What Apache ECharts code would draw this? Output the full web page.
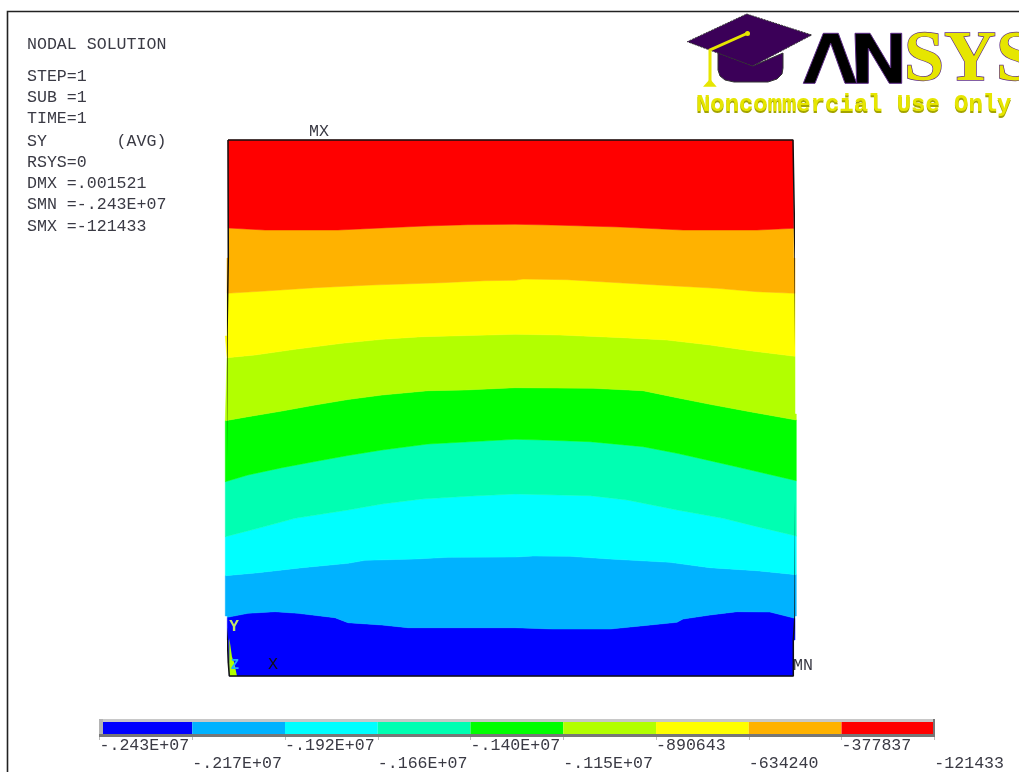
<!DOCTYPE html>
<html>
<head>
<meta charset="utf-8">
<style>html,body{margin:0;padding:0;background:#fff}#c{width:1019px;height:772px}</style>
<script src="https://cdn.jsdelivr.net/npm/echarts@6/dist/echarts.min.js"></script>
</head>
<body>
<div id="c"></div>
<script>
// Contour levels and their labels
const levels = [-2429060, -2172657, -1916254, -1659851, -1403448, -1147046, -890643, -634240, -377837, -121433];
const levelLabels = ['-.243E+07', '-.217E+07', '-.192E+07', '-.166E+07', '-.140E+07', '-.115E+07', '-890643', '-634240', '-377837', '-121433'];
const bandColors = ['#0000ff', '#00b2ff', '#00ffff', '#00ffb2', '#00ff00', '#b2ff00', '#ffff00', '#ffb200', '#ff0000'];

// Deformed plate outline in model units
const leftEdge = [[0, 536], [0.3, 418], [-1, 418], [-1, 340], [-2.7, 340], [-2.7, 60], [-0.7, 60], [-0.7, 36], [0.3, 36], [0.3, 13], [1.3, 13], [1.3, 0]];
const rightEdge = [[565, 536], [565.7, 418], [567, 418], [567, 262], [568.3, 262], [568.3, 60], [567, 60], [567, 36], [565.3, 36], [565.3, 0]];

// Contour boundaries between neighbouring bands, bottom to top
const boundaryBlueLight = [[-0.7, 58.7], [20, 62.7], [47, 64.3], [70, 62.7], [107, 58.3], [120, 53.3], [154, 51], [180, 48.3], [287, 48.3], [325, 47], [382, 47], [415, 50.3], [449, 53.7], [455, 57], [482, 61], [509, 64.3], [542, 64], [567, 57.7]];
const boundaryLightCyan = [[-2.7, 100.3], [30, 103.3], [74, 108.3], [120, 112.7], [137, 115.7], [187, 117], [220, 118.7], [287, 119], [305, 120], [342, 119.7], [382, 117], [442, 113.7], [482, 108.3], [529, 105.3], [568.3, 101.3]];
const boundaryCyanTeal = [[-2.7, 139.3], [30, 147.7], [67, 157.7], [120, 166], [154, 172], [194, 177], [244, 180], [287, 182], [362, 180.3], [399, 176], [449, 166], [495, 157.7], [529, 149.3], [568.3, 140]];
const boundaryTealGreen = [[-2.7, 194.3], [20, 201], [54, 208.3], [87, 214.5], [120, 220.5], [154, 226], [200, 232], [237, 234], [287, 236.7], [315, 236], [362, 234.3], [415, 229.3], [449, 222.7], [482, 215.3], [515, 207.7], [568.3, 195.3]];
const boundaryGreenLime = [[-2.7, 255.3], [20, 259.3], [54, 265], [87, 271], [120, 276.5], [154, 281], [200, 285.3], [237, 286], [287, 288.3], [365, 287.7], [415, 285.3], [449, 278.3], [482, 271.7], [522, 264.3], [568.3, 256]];
const boundaryLimeYellow = [[-1, 318.3], [27, 321], [67, 326.7], [114, 332.7], [154, 336.7], [194, 339.3], [287, 341.7], [332, 341], [395, 338.3], [439, 336], [482, 331], [522, 325.3], [567, 319.7]];
const boundaryYellowOrange = [[-1, 382.7], [37, 385], [87, 388.3], [144, 391], [214, 393.3], [257, 395.3], [287, 395.7], [295, 397], [339, 396.3], [395, 393], [442, 390.3], [489, 387.7], [529, 384.3], [567, 382.7]];
const boundaryOrangeRed = [[0.3, 448], [37, 446], [110, 446], [159, 448.3], [197, 450], [240, 451.3], [287, 451.7], [324, 451], [392, 449], [455, 446], [529, 446], [565.7, 447.7]];
const triadSliver = [[1.3, 38], [4, 19], [6, 14], [9, 0], [1.3, 0]];

const boundaries = [
  [leftEdge[leftEdge.length - 1], rightEdge[rightEdge.length - 1]],
  boundaryBlueLight, boundaryLightCyan, boundaryCyanTeal, boundaryTealGreen,
  boundaryGreenLime, boundaryLimeYellow, boundaryYellowOrange, boundaryOrangeRed,
  [leftEdge[0], rightEdge[0]]
];

// Status text
const statusTitle = 'NODAL SOLUTION';
const statusLines = ['STEP=1', 'SUB =1', 'TIME=1', 'SY       (AVG)', 'RSYS=0', 'DMX =.001521', 'SMN =-.243E+07', 'SMX =-121433'];
const markerTexts = [['MX', 319, 132], ['X', 273, 665], ['MN', 803, 666]];

const MONO = '"Liberation Mono", monospace';

function bandPolygon(i) {
  const lower = boundaries[i], upper = boundaries[i + 1];
  const yLowL = lower[0][1], yUpL = upper[0][1];
  const yLowR = lower[lower.length - 1][1], yUpR = upper[upper.length - 1][1];
  const pts = [];
  lower.forEach(p => pts.push(p));
  rightEdge.slice().reverse().forEach(p => { if (p[1] > yLowR && p[1] < yUpR) pts.push(p); });
  upper.slice().reverse().forEach(p => pts.push(p));
  leftEdge.forEach(p => { if (p[1] < yUpL && p[1] > yLowL) pts.push(p); });
  return pts;
}

const series = [];
bandColors.forEach((color, i) => {
  const poly = bandPolygon(i);
  series.push({
    type: 'custom', xAxisIndex: 0, yAxisIndex: 0, silent: true, clip: false,
    data: [0], animation: false,
    renderItem: (params, api) => ({
      type: 'polygon',
      shape: { points: poly.map(p => api.coord(p)) },
      style: { fill: color, stroke: color, lineWidth: 0.5 }
    })
  });
  series.push({
    type: 'custom', xAxisIndex: 1, yAxisIndex: 1, silent: true, clip: false,
    data: [0], animation: false,
    renderItem: (params, api) => {
      const a = api.coord([levels[i], 1]), b = api.coord([levels[i + 1], 0]);
      return { type: 'rect', shape: { x: a[0], y: a[1], width: b[0] - a[0], height: b[1] - a[1] }, style: { fill: color } };
    }
  });
});
series.push({
  type: 'custom', xAxisIndex: 0, yAxisIndex: 0, silent: true, clip: false, z: 4,
  data: [0], animation: false,
  renderItem: (params, api) => ({
    type: 'polygon', shape: { points: triadSliver.map(p => api.coord(p)) },
    style: { fill: '#b2ff00' }
  })
});
series.push({
  type: 'line', xAxisIndex: 0, yAxisIndex: 0, silent: true, clip: false, z: 5,
  showSymbol: false, animation: false,
  lineStyle: { color: '#111', width: 1.5 },
  data: leftEdge.concat(rightEdge.slice().reverse()).concat([leftEdge[0]])
});

function txt(text, x, y, color, opts) {
  return Object.assign({
    type: 'text', x, y, z: 30,
    style: { text, fill: color || '#3a3a44', font: '16.6px ' + MONO, textVerticalAlign: 'middle', textAlign: 'left' }
  }, opts || {});
}
const statusY = [77, 98, 119, 142, 163, 184, 205, 227];
const elements = [];
// outer frame
elements.push({ type: 'polyline', z: 20, shape: { points: [[7.5, 772], [7.5, 11.5], [1019, 11.5]] }, style: { stroke: '#222', lineWidth: 1.6, fill: null } });
// colour bar frame
elements.push({ type: 'rect', z: 20, shape: { x: 99, y: 719, width: 836, height: 3 }, style: { fill: '#c8c8c8' } });
elements.push({ type: 'rect', z: 20, shape: { x: 99, y: 719, width: 4, height: 18 }, style: { fill: '#b4b4b4' } });
elements.push({ type: 'rect', z: 20, shape: { x: 99, y: 734, width: 836, height: 3 }, style: { fill: '#777' } });
elements.push({ type: 'rect', z: 20, shape: { x: 933, y: 719, width: 2, height: 18 }, style: { fill: '#777' } });
// status text
elements.push(txt(statusTitle, 27, 45));
statusLines.forEach((s, i) => elements.push(txt(s, 27, statusY[i])));
markerTexts.forEach(m => elements.push(txt(m[0], m[1], m[2], m[0] === 'X' ? '#111' : '#3a3a44', { style: { text: m[0], fill: m[0] === 'X' ? '#111' : '#3a3a44', font: '16.6px ' + MONO, textAlign: 'center', textVerticalAlign: 'middle' } })));
elements.push(txt('Y', 234, 627, '#c4e66a', { style: { text: 'Y', fill: '#c4e66a', font: 'bold 16px ' + MONO, textAlign: 'center', textVerticalAlign: 'middle' } }));
elements.push(txt('Z', 235, 665, '#22a8ff', { style: { text: 'Z', fill: '#22a8ff', font: 'bold 14px ' + MONO, textAlign: 'center', textVerticalAlign: 'middle' } }));
// logo: cap
const purple = '#3b0058', gold = '#e6e600', line = '#5b2a86';
elements.push({ type: 'polygon', z: 21, shape: { points: [[718, 53], [718, 70], [720, 76], [725, 80], [734, 82], [768, 82], [777, 79], [782, 74], [783, 68], [783, 53], [753, 66]] }, style: { fill: purple, stroke: '#333', lineWidth: 1 } });
elements.push({ type: 'polygon', z: 22, shape: { points: [[746.7, 14], [811.7, 35], [752.7, 66], [687.3, 41.7]] }, style: { fill: purple, stroke: '#333', lineWidth: 1, lineDash: [2, 1] } });
elements.push({ type: 'polyline', z: 23, shape: { points: [[748, 33], [710, 50], [710, 82]] }, style: { stroke: gold, lineWidth: 3, fill: null } });
elements.push({ type: 'polygon', z: 23, shape: { points: [[703, 86.7], [716.7, 86.7], [710, 79]] }, style: { fill: gold } });
elements.push({ type: 'circle', z: 23, shape: { cx: 747.5, cy: 33.5, r: 2.5 }, style: { fill: gold } });
// logo: letters
elements.push({ type: 'polygon', z: 22, shape: { points: [[803.3, 83.3], [823.3, 33.3], [838.3, 33.3], [856.7, 83.3], [845, 83.3], [830.7, 43.3], [815, 83.3]] }, style: { fill: '#000', stroke: line, lineWidth: 1 } });
elements.push({ type: 'polygon', z: 22, shape: { points: [[855, 33.3], [870, 33.3], [890.7, 68], [890.7, 33.3], [901.7, 33.3], [901.7, 83.3], [889.3, 83.3], [868.3, 48.3], [868.3, 83.3], [856.7, 83.3]] }, style: { fill: '#000', stroke: line, lineWidth: 1 } });
elements.push({ type: 'text', z: 23, x: 904, y: 61, style: { text: 'SYS', font: 'bold 72px "Liberation Serif", serif', fill: gold, stroke: line, lineWidth: 1.4, textVerticalAlign: 'middle', textAlign: 'left' } });
const nc = 'Noncommercial Use Only';
elements.push(txt(nc, 696, 106.5, '#a4a400', { style: { text: nc, fill: '#a4a400', font: 'bold 23.9px ' + MONO, textVerticalAlign: 'middle', textAlign: 'left' } }));
elements.push(txt(nc, 696, 105, gold, { z: 31, style: { text: nc, fill: gold, font: 'bold 23.9px ' + MONO, textVerticalAlign: 'middle', textAlign: 'left' } }));

const chart = echarts.init(document.getElementById('c'), null, { renderer: 'canvas', width: 1019, height: 772 });
chart.setOption({
  animation: false,
  backgroundColor: '#ffffff',
  grid: [
    { left: 228, top: 140, width: 565, height: 536, outerBoundsMode: 'none' },
    { left: 99.5, top: 722, width: 834.8, height: 12, outerBoundsMode: 'none' }
  ],
  xAxis: [
    { type: 'value', gridIndex: 0, min: 0, max: 565, show: false },
    {
      type: 'value', gridIndex: 1, min: levels[0], max: levels[levels.length - 1],
      axisLine: { show: false }, splitLine: { show: false },
      axisTick: { show: true, length: 6, customValues: levels, lineStyle: { color: '#bbbbbb', width: 1 } },
      axisLabel: {
        customValues: levels, margin: 3, align: 'left', lineHeight: 18, interval: 0,
        fontFamily: MONO, fontSize: 16.6, color: '#3a3a44', hideOverlap: false,
        formatter: v => {
          const i = levels.indexOf(v);
          return i % 2 === 0 ? levelLabels[i] + '\n ' : ' \n' + levelLabels[i];
        }
      }
    }
  ],
  yAxis: [
    { type: 'value', gridIndex: 0, min: 0, max: 536, show: false },
    { type: 'value', gridIndex: 1, min: 0, max: 1, show: false }
  ],
  series,
  graphic: { elements }
});
</script>
</body>
</html>
